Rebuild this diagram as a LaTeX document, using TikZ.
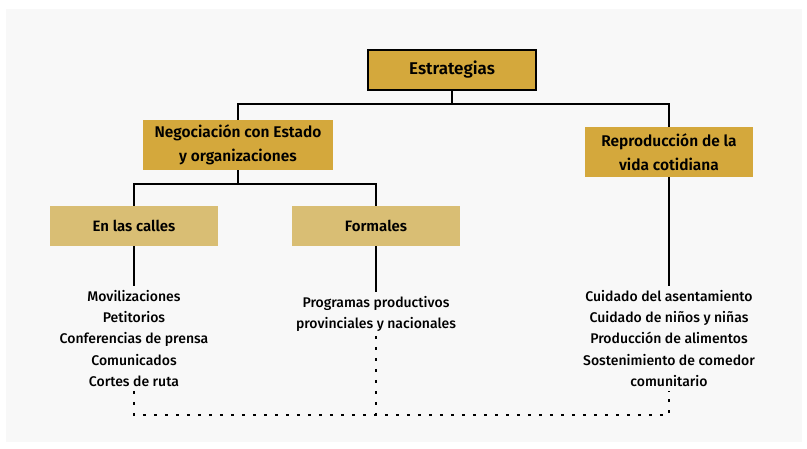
\documentclass[tikz,border=0pt]{standalone}
\usepackage{fontspec}
\setmainfont{Fira Sans}[UprightFont=* Medium, BoldFont=* SemiBold]
\usepackage{tikz}
\usetikzlibrary{shapes.geometric}

\definecolor{gold}{RGB}{212,168,60}
\definecolor{lightgold}{RGB}{217,190,116}
\definecolor{paper}{RGB}{248,248,248}

\begin{document}
\begin{tikzpicture}[x=1pt, y=-1pt, node distance=81pt]
\tikzstyle{top} = [rectangle, minimum width=168pt, minimum height=40pt, text centered, draw=black, line width=2.4pt, fill=gold, font=\fontsize{17}{25}\selectfont\bfseries]
\tikzstyle{branch} = [rectangle, minimum width=190pt, minimum height=50pt, align=center, fill=gold, inner sep=2pt, font=\fontsize{15.5}{24.5}\selectfont\bfseries]
\tikzstyle{sub} = [rectangle, minimum width=168pt, minimum height=40pt, text centered, fill=lightgold, font=\fontsize{15}{17}\selectfont\bfseries]
\tikzstyle{items} = [align=center, inner sep=4pt, font=\fontsize{14}{21.3}\selectfont]
\tikzstyle{link} = [line width=2.4pt, black]
\tikzstyle{dotlink} = [line width=2.6pt, black, dash pattern=on 2.6pt off 8.4pt]

\useasboundingbox (0,0) rectangle (807,449);
\fill [white] (0,0) rectangle (807,449);
\fill [paper] (6,9) rectangle (802,442);

\node (estr) [top] at (452,70) {Estrategias};
\node (neg) [branch, below of=estr, xshift=-214pt, yshift=6pt] {Negociación con Estado\\y organizaciones};
\node (rep) [branch, minimum width=168pt, below of=estr, xshift=217pt, yshift=-1pt] {Reproducción de la\\vida cotidiana};
\node (calles) [sub, below of=neg, xshift=-104pt] {En las calles};
\node (formales) [sub, below of=neg, xshift=138pt] {Formales};
\node (list1) [items, below of=calles, yshift=-31.5pt] {Movilizaciones\\Petitorios\\Conferencias de prensa\\Comunicados\\Cortes de ruta};
\node (list2) [items, below of=formales, yshift=-7pt] {Programas productivos\\provinciales y nacionales};
\node (list3) [items, below of=rep, yshift=-105.5pt] {Cuidado del asentamiento\\Cuidado de niños y niñas\\Producción de alimentos\\Sostenimiento de comedor\\comunitario};

\coordinate (bus1) at ([yshift=-13pt]estr.south);
\coordinate (bus2) at ([yshift=-14pt]neg.south);
\coordinate (base) at (list1.south |- 0,415);
\coordinate (mid) at (list2.south |- base);

\draw [link] (estr) -- (bus1);
\draw [link] (bus1) -| (neg);
\draw [link] (bus1) -| (rep);
\draw [link] (neg) -- (bus2);
\draw [link] (bus2) -| (calles);
\draw [link] (bus2) -| (formales);
\draw [link] (calles) -- (list1);
\draw [link] (formales) -- (list2);
\draw [link] (rep) -- (list3);
\draw [dotlink] (list1) -- (base) -| (list3);
\draw [dotlink] (list2) -- (mid);
\end{tikzpicture}
\end{document}
